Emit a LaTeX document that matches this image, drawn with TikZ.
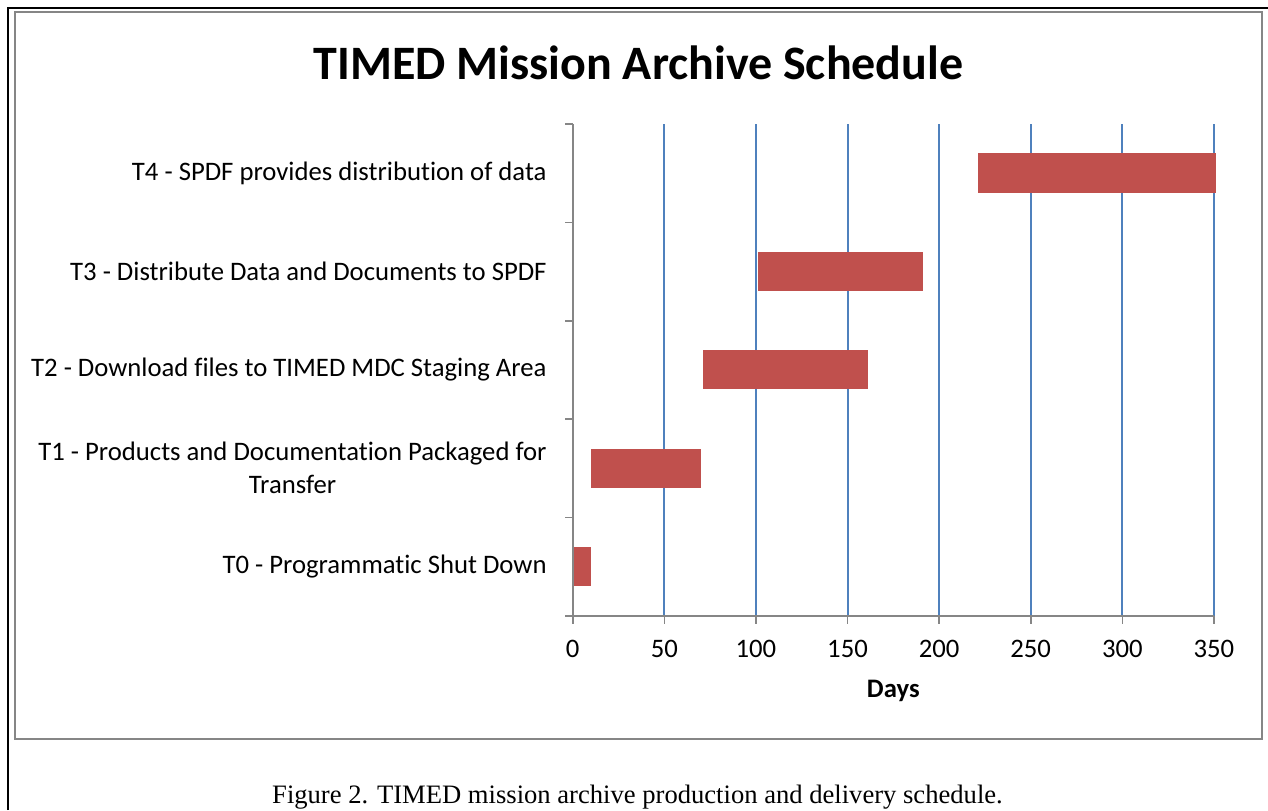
\documentclass[tikz,border=0pt]{standalone}
\usepackage{fontspec}
\setmainfont[Ligatures=NoCommon]{Carlito}
\newfontfamily\capfont{Liberation Serif}
\definecolor{barred}{RGB}{192,80,77}
\definecolor{gridblue}{RGB}{79,129,189}
\definecolor{axisgray}{RGB}{134,134,134}
\begin{document}
\begin{tikzpicture}[
  x=0.5pt, y=-0.5pt,
  task/.style={anchor=east, align=center, inner sep=0pt, font=\fontsize{13.35}{16.5}\selectfont},
  ticklabel/.style={anchor=north, inner sep=0pt, font=\fontsize{13.35}{16}\selectfont},
  bar/.style={fill=barred},
  gridline/.style={gridblue, line width=1pt},
  axisline/.style={axisgray, line width=0.8pt}
]
\useasboundingbox (0,0) rectangle (1268,810);
% frames
\draw[line width=1.3pt] (8,810) -- (8,8) -- (1268,8);
\draw[axisgray, line width=0.9pt] (15,12) rectangle (1262,739);

\node[font=\fontsize{24}{29}\selectfont\bfseries] (title) at (638.5,63) {TIMED Mission Archive Schedule};

% task labels
\node[task] (t4) at (547,173.2) {T4 - SPDF provides distribution of data};
\node[task] (t3) at (547,271.5) {T3 - Distribute Data and Documents to SPDF};
\node[task] (t2) at (547,369.8) {T2 - Download files to TIMED MDC Staging Area};
\node[task] (t1) at (547,468.2) {T1 - Products and Documentation Packaged for\\Transfer};
\node[task] (t0) at (547,566.5) {T0 - Programmatic Shut Down};

\begin{scope}[shift={(572.7,0)}, x=0.916pt]
  % gridlines
  \foreach \d in {50,100,...,350}
    \draw[gridline] (\d,124) -- (\d,615.7);
  % bars
  \fill[bar] (0,547.3) rectangle (10,586);
  \fill[bar] (10,449) rectangle (70,487.7);
  \fill[bar] (71,350.3) rectangle (161,389.3);
  \fill[bar] (101,252.3) rectangle (191,291);
  \fill[bar] (221,153.3) rectangle (351,192.7);
  % axes
  \draw[axisline] (0,124) -- (0,615.7) -- (350,615.7);
  \foreach \c in {124,222.3,320.7,419,517.3,615.7}
    \draw[axisline] (0,\c) -- (-4.4,\c);
  \foreach \d in {0,50,...,350} {
    \draw[axisline] (\d,615.7) -- (\d,624);
    \node[ticklabel] (tick\d) at (\d,640) {\d};
  }
  \node[font=\fontsize{13.35}{16}\selectfont\bfseries] (days) at (175,691) {Days};
\end{scope}

\node[font=\capfont\fontsize{13.3}{16}\selectfont] (caption) at (637.5,797)
  {Figure 2. TIMED mission archive production and delivery schedule.};
\end{tikzpicture}
\end{document}
